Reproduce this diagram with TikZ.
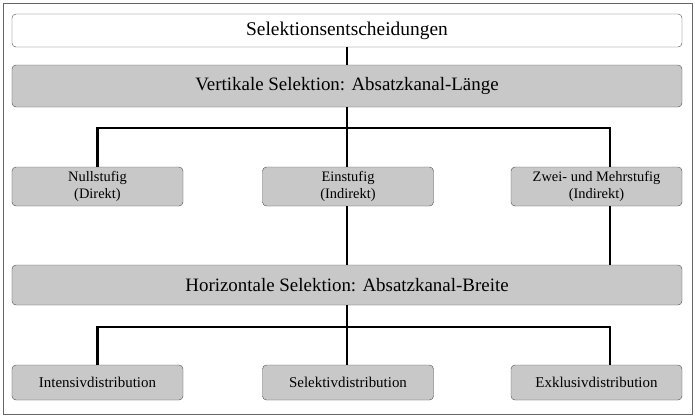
\documentclass[tikz,border=0pt]{standalone}
\usepackage{fontspec}
\setmainfont{Liberation Serif}
\usetikzlibrary{positioning}
\definecolor{boxgray}{RGB}{200,200,200}
\begin{document}
\begin{tikzpicture}[x=1bp,y=-1bp,
    every node/.style={draw=black!70,rounded corners=4pt,align=center,inner sep=0pt},
    wide/.style={minimum width=670bp,fill=boxgray,font=\fontsize{19}{21}\selectfont},
    small/.style={minimum width=171bp,minimum height=39bp,fill=boxgray,font=\fontsize{14.5}{16.5}\selectfont},
    low/.style={minimum width=171bp,minimum height=35bp,fill=boxgray,font=\fontsize{15}{17}\selectfont},
    conn/.style={line width=2.4bp}]
  \useasboundingbox (0,0) rectangle (695,417);
  \draw[black!60,line width=0.8bp] (3,3) rectangle (692,414);
  %% top levels
  \node[wide,fill=white,minimum height=33bp,font=\fontsize{19.5}{21}\selectfont] (sel) at (347,30.5) {Selektionsentscheidungen};
  \node[wide,minimum height=42bp] (vert) at (347,86) {Vertikale Selektion: Absatzkanal-L\"ange};
  %% channel length
  \node[small] (null) at (97.5,186.5) {Nullstufig\\(Direkt)};
  \node[small] (ein) at (348,186.5) {Einstufig\\(Indirekt)};
  \node[small] (zwei) at (596.5,186.5) {Zwei- und Mehrstufig\\(Indirekt)};
  \node[wide,minimum height=40bp] (hori) at (347,285) {Horizontale Selektion: Absatzkanal-Breite};
  %% channel width
  \node[low] (int) at (97.5,382.5) {Intensivdistribution};
  \node[low] (selk) at (348,382.5) {Selektivdistribution};
  \node[low] (exk) at (596.5,382.5) {Exklusivdistribution};
  %% connectors
  \coordinate (j1) at (347,128);
  \coordinate (j2) at (347,327);
  \coordinate (r1) at (610,128);
  \coordinate (r2) at (610,327);
  \draw[conn] (sel.south) -- (vert.north);
  \draw[conn] (vert.south) -- (j1);
  \draw[conn] (null.north) |- (r1) -- (r1 |- zwei.north);
  \draw[conn] (j1) -- (ein.north -| j1);
  \draw[conn] (ein.south -| j1) -- (hori.north -| j1);
  \draw[conn] (zwei.south -| r1) -- (hori.north -| r1);
  \draw[conn] (hori.south) -- (j2);
  \draw[conn] (int.north) |- (r2) -- (r2 |- exk.north);
  \draw[conn] (j2) -- (selk.north -| j2);
\end{tikzpicture}
\end{document}
